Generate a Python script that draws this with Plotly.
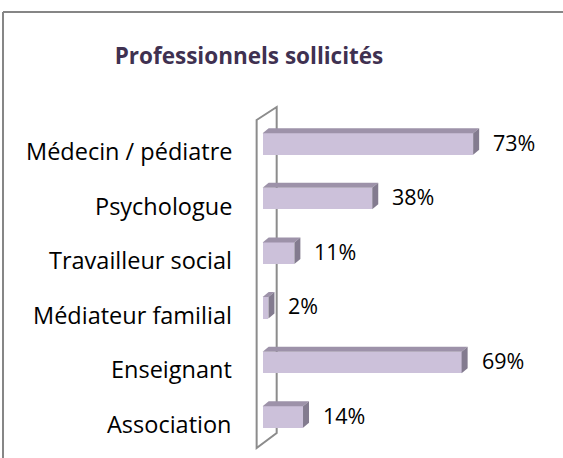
import plotly.graph_objects as go

categories = ["Médecin / pédiatre", "Psychologue", "Travailleur social", "Médiateur familial", "Enseignant", "Association"]
values = [73, 38, 11, 2, 69, 14]
value_labels = ["73%", "38%", "11%", "2%", "69%", "14%"]
title_text = "Professionnels sollicités"

W, H = 563, 458
L, R, T, B = 254.4, 12.3, 100, 3
X0, X1 = -3, 100
Y0, Y1 = -0.696, 5.806
pxx = (W - L - R) / (X1 - X0)
pxy = (H - T - B) / (Y1 - Y0)

n = len(categories)
ypos = [n - 1 - i for i in range(n)]
bw = 0.394
dx = 6 / pxx
dy = 5 / pxy

front = "#CCC1DA"
topc = "#9D92A9"
sidec = "#837B8F"
font = "Open Sans"

fig = go.Figure()

fig.add_trace(go.Bar(orientation="h", x=values, y=ypos, width=bw,
                     marker=dict(color=front, line=dict(width=0)), showlegend=False, hoverinfo="skip"))

for v, y in zip(values, ypos):
    t = y + bw / 2
    b = y - bw / 2
    fig.add_trace(go.Scatter(x=[0, v, v + dx, dx, 0], y=[t, t, t + dy, t + dy, t], fill="toself",
                             fillcolor=topc, mode="none", showlegend=False, hoverinfo="skip"))
    fig.add_trace(go.Scatter(x=[v, v + dx, v + dx, v, v], y=[b, b + dy, t + dy, t, b], fill="toself",
                             fillcolor=sidec, mode="none", showlegend=False, hoverinfo="skip"))

annotations = []
for c, y in zip(categories, ypos):
    annotations.append(dict(x=X0, xref="x", y=y, yref="y", text=c, showarrow=False, xanchor="right",
                            yanchor="middle", xshift=-20, yshift=-7, font=dict(family=font, size=23.5, color="#000")))
for v, y, lab in zip(values, ypos, value_labels):
    annotations.append(dict(x=v, xref="x", y=y, yref="y", text=lab, showarrow=False, xanchor="left",
                            yanchor="middle", xshift=18, yshift=2, font=dict(family=font, size=21.5, color="#000")))

# side wall
wx_f = -6 / pxx
wx_b = 14 / pxx
wy = lambda p: (417 - p) / 54.6
wall = f"M {wx_f},{wy(120)} L {wx_b},{wy(107)} L {wx_b},{wy(433)} L {wx_f},{wy(448)} Z"

# frame (top + left lines)
fx = lambda p: (p - L) / (W - L - R)
fy = lambda p: 1 - (p - T) / (H - T - B)
shapes = [
    dict(type="path", path=wall, xref="x", yref="y", line=dict(color="#8C8C8C", width=2), layer="below"),
    dict(type="line", xref="paper", yref="paper", x0=fx(4), x1=fx(600), y0=fy(12), y1=fy(12),
         line=dict(color="#868686", width=2)),
    dict(type="line", xref="paper", yref="paper", x0=fx(4), x1=fx(4), y0=fy(12), y1=fy(500),
         line=dict(color="#868686", width=2)),
]

fig.update_layout(
    width=W, height=H,
    margin=dict(l=L, r=R, t=T, b=B, autoexpand=False),
    paper_bgcolor="white", plot_bgcolor="white",
    xaxis=dict(range=[X0, X1], visible=False, fixedrange=True),
    yaxis=dict(range=[Y0, Y1], visible=False, fixedrange=True),
    title=dict(text=f"<b>{title_text}</b>", xref="container", yref="container", x=249 / W, y=1 - 56 / H,
               xanchor="center", yanchor="middle", font=dict(family=font, size=22.5, color="#3F3151")),
    annotations=annotations, shapes=shapes, bargap=0,
)

fig.write_html("out.html", config={"displayModeBar": False},
               post_script="document.body.style.margin='0';document.body.style.overflow='hidden';")
